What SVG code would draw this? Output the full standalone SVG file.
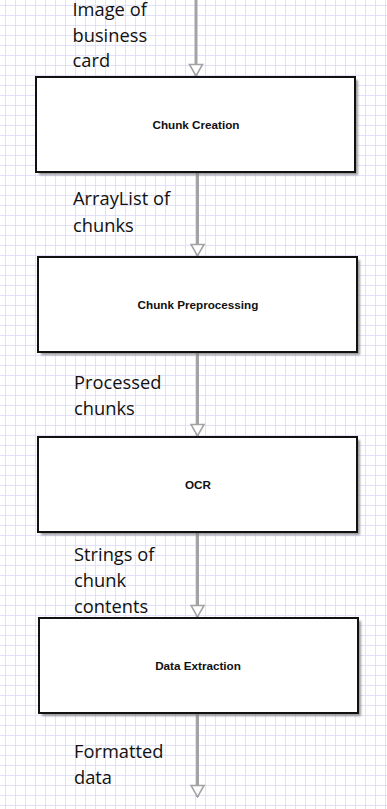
<svg xmlns="http://www.w3.org/2000/svg" width="387" height="809" viewBox="0 0 387 809">
  <defs>
    <pattern id="grid" width="10" height="10" patternUnits="userSpaceOnUse" x="-4" y="-4">
      <path d="M10 0 V10 M0 10 H10" fill="none" stroke="#d8d8fa" stroke-width="1.5"/>
    </pattern>
    <filter id="soft" x="-5%" y="-5%" width="110%" height="110%">
      <feGaussianBlur stdDeviation="1"/>
    </filter>
    <marker id="head" viewBox="0 0 16 14" refX="8" refY="13" markerWidth="16" markerHeight="14" markerUnits="userSpaceOnUse" orient="0">
      <path d="M1.5 1.5 H14.5 L8 12.8 Z" fill="#ffffff" stroke="#a3a3a3" stroke-width="1.6" stroke-linejoin="miter"/>
    </marker>
  </defs>
  <style>
    .box { fill: #ffffff; stroke: #111111; stroke-width: 2; }
    .shadow { fill: #7a7a7a; opacity: 0.75; filter: url(#soft); }
    .title { font-family: "Liberation Sans", Arial, sans-serif; font-weight: bold; font-size: 11.7px; fill: #111111; text-anchor: middle; }
    .label { font-family: "Open Sans", "Noto Sans", sans-serif; font-size: 18.3px; fill: #111111; }
    .flow { stroke: #a3a3a3; stroke-width: 3; fill: none; marker-end: url(#head); }
  </style>

  <!-- background grid -->
  <rect width="387" height="809" fill="#ffffff"/>
  <rect width="387" height="809" fill="url(#grid)"/>

  <!-- connectors -->
  <g id="connectors">
    <line class="flow" x1="196" y1="0" x2="196" y2="76"/>
    <line class="flow" x1="197.5" y1="173" x2="197.5" y2="256"/>
    <line class="flow" x1="197.5" y1="353" x2="197.5" y2="436"/>
    <line class="flow" x1="197.5" y1="533" x2="197.5" y2="617"/>
    <line class="flow" x1="197.5" y1="714" x2="197.5" y2="797"/>
  </g>

  <!-- connector labels -->
  <g id="labels">
    <text class="label" x="72.5" y="16">Image of</text>
    <text class="label" x="72.5" y="41.5">business</text>
    <text class="label" x="72.5" y="67">card</text>
    <text class="label" x="73" y="205">ArrayList of</text>
    <text class="label" x="73" y="231.5">chunks</text>
    <text class="label" x="74" y="389">Processed</text>
    <text class="label" x="74" y="415">chunks</text>
    <text class="label" x="74" y="561">Strings of</text>
    <text class="label" x="74" y="587">chunk</text>
    <text class="label" x="74" y="613">contents</text>
    <text class="label" x="74" y="758">Formatted</text>
    <text class="label" x="74" y="784">data</text>
  </g>

  <!-- process steps -->
  <g id="chunk-creation">
    <rect class="shadow" x="39" y="80" width="319" height="95"/>
    <rect class="box" x="36" y="77" width="319" height="95"/>
    <text class="title" x="196" y="128.5">Chunk Creation</text>
  </g>
  <g id="chunk-preprocessing">
    <rect class="shadow" x="41" y="260" width="319" height="95"/>
    <rect class="box" x="38" y="257" width="319" height="95"/>
    <text class="title" x="198" y="308.5">Chunk Preprocessing</text>
  </g>
  <g id="ocr">
    <rect class="shadow" x="41" y="440" width="319" height="95"/>
    <rect class="box" x="38" y="437" width="319" height="95"/>
    <text class="title" x="198" y="489">OCR</text>
  </g>
  <g id="data-extraction">
    <rect class="shadow" x="42" y="621" width="319" height="95"/>
    <rect class="box" x="39" y="618" width="319" height="95"/>
    <text class="title" x="198" y="669.5">Data Extraction</text>
  </g>
</svg>
